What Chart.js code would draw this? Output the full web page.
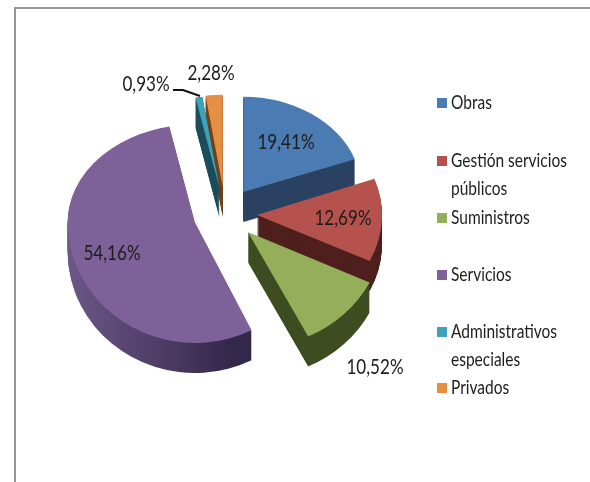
<!DOCTYPE html>
<html lang="es">
<head>
<meta charset="utf-8">
<title>Contratos por tipo</title>
<script src="https://cdn.jsdelivr.net/npm/chart.js@4"></script>
<style>
  html, body { margin: 0; padding: 0; background: #fff; }
  #frame { position: absolute; left: 14px; top: 7px; right: 0; bottom: 0; border-left: 2px solid #979797; border-top: 2px solid #979797; }
  #pie { position: absolute; left: 0; top: 0; }
</style>
</head>
<body>
<div id="frame"></div>
<canvas id="pie" width="590" height="482"></canvas>
<script>
// Data
const categories = ['Obras', ['Gestión servicios', 'públicos'], 'Suministros', 'Servicios', ['Administrativos', 'especiales'], 'Privados'];
const shares = [19.41, 12.69, 10.52, 54.16, 0.93, 2.28];

// Colours
const topColors = ['#4a7cb3', '#b5524e', '#94ae59', '#7e6199', '#3fa0b9', '#e58f45'];
const wallColors = ['#2b4262', '#4f201e', '#3e4d21', null, '#1c4e5c', '#6e431c'];

// Fake 3D look: back of the pie is smaller than the front
const TILT = 0.82;
const EXPLODE = 32;
const DEPTH = 30;
const sliceScale = [
  { x: 0.95, up: 0.93, down: 0.93 },
  { x: 1.0, up: 1.03, down: 1.04 },
  { x: 1.08, up: 1.14, down: 1.14 },
  { x: 1.016, up: 0.95, down: 1.18 },
  { x: 0.96, up: 0.9, down: 0.9 },
  { x: 0.96, up: 0.9, down: 0.9 }
];
const paintOrder = [5, 4, 0, 1, 2, 3];

// Text placement
const labelSpots = [[286, 142], [343, 218], [375, 367], [112, 253], [146, 84], [211, 73]];
const legendRows = [103, 161, 218, 275, 332, 388];
const LEGEND_X = 437;
const LINE_GAP = 28;
const FONT = 'Lato, "Liberation Sans", sans-serif';
const TEXT_SQUEEZE = 0.775;

function squeezedText(ctx, text, x, y) {
  ctx.save();
  ctx.translate(x, y);
  ctx.scale(TEXT_SQUEEZE, 1);
  ctx.fillText(text, 0, 0);
  ctx.restore();
}

function drawSlice(ctx, chart, el, scale, color, dy) {
  const mid = (el.startAngle + el.endAngle) / 2;
  const tipX = el.x + Math.cos(mid) * EXPLODE;
  const tipY = Math.round(el.y + Math.sin(mid) * EXPLODE * TILT) + dy;
  const part = Object.create(el);
  part.options = Object.assign({}, el.options, { backgroundColor: color });

  [[0, tipY, scale.up], [tipY, chart.height - tipY, scale.down]].forEach(([top, height, k]) => {
    ctx.save();
    ctx.beginPath();
    ctx.rect(0, top, chart.width, height);
    ctx.clip();
    ctx.translate(tipX, tipY);
    ctx.scale(scale.x, TILT * k);
    ctx.translate(-el.x, -el.y);
    part.draw(ctx);
    ctx.restore();
  });
}

const pie3d = {
  id: 'pie3d',
  beforeDatasetDraw(chart, args) {
    const ctx = chart.ctx;
    const arcs = args.meta.data;
    paintOrder.forEach(i => {
      const el = arcs[i];
      let wall = wallColors[i];
      if (!wall) {
        wall = ctx.createLinearGradient(el.x - el.outerRadius, 0, el.x + 0.3 * el.outerRadius, 0);
        wall.addColorStop(0, '#6c5787');
        wall.addColorStop(0.6, '#4b3b62');
        wall.addColorStop(1, '#33274a');
      }
      for (let d = DEPTH; d > 0; d--) drawSlice(ctx, chart, el, sliceScale[i], wall, d);
      drawSlice(ctx, chart, el, sliceScale[i], topColors[i], 0);
    });
    return false;
  },
  afterDatasetsDraw(chart) {
    const ctx = chart.ctx;
    ctx.save();

    // Leader line of the 0,93% slice
    ctx.strokeStyle = '#111';
    ctx.lineWidth = 2;
    ctx.beginPath();
    ctx.moveTo(173, 90);
    ctx.lineTo(183, 90);
    ctx.lineTo(200, 96);
    ctx.stroke();

    ctx.fillStyle = '#1d1d1d';
    ctx.textBaseline = 'middle';

    // Value labels
    ctx.font = '22px ' + FONT;
    ctx.textAlign = 'center';
    shares.forEach((v, i) => {
      squeezedText(ctx, v.toFixed(2).replace('.', ',') + '%', labelSpots[i][0], labelSpots[i][1]);
    });

    // Legend
    ctx.font = '20px ' + FONT;
    ctx.textAlign = 'left';
    categories.forEach((name, i) => {
      const y = legendRows[i];
      ctx.fillStyle = topColors[i];
      ctx.fillRect(LEGEND_X, y - 5, 10, 10);
      ctx.fillStyle = '#1d1d1d';
      [].concat(name).forEach((line, n) => squeezedText(ctx, line, LEGEND_X + 14, y + n * LINE_GAP));
    });
    ctx.restore();
  }
};

new Chart(document.getElementById('pie'), {
  type: 'pie',
  data: {
    labels: categories,
    datasets: [{ data: shares, backgroundColor: topColors, borderWidth: 0 }]
  },
  options: {
    responsive: false,
    animation: false,
    radius: 125,
    layout: { padding: { right: 140, bottom: 55 } },
    plugins: { legend: { display: false }, tooltip: { enabled: false } }
  },
  plugins: [pie3d]
});
</script>
</body>
</html>
